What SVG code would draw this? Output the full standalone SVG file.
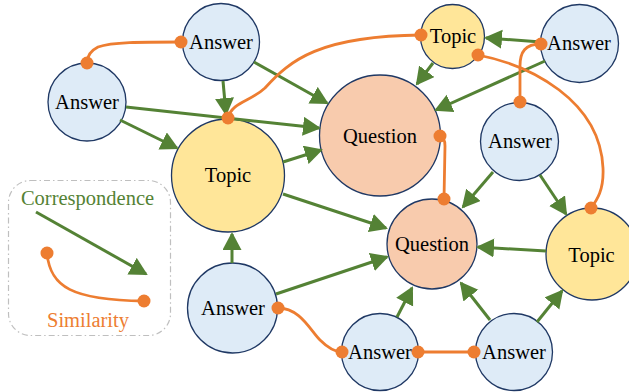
<svg xmlns="http://www.w3.org/2000/svg" width="629" height="392" viewBox="0 0 629 392">
<style>
.n{stroke:#1F3864;stroke-width:1.3}
.ans{fill:#DEEBF7}
.top{fill:#FFE699}
.que{fill:#F8CBAD}
text{font-family:"Liberation Serif","Times New Roman",serif;font-size:20.5px;text-anchor:middle;fill:#000}
.c{stroke:#548235;stroke-width:3;fill:none;marker-end:url(#ah)}
.s{stroke:#ED7D31;stroke-width:2.8;fill:none}
.d{fill:#ED7D31}
</style>
<defs>
<marker id="ah" markerUnits="userSpaceOnUse" markerWidth="20" markerHeight="20" viewBox="0 0 20 20" refX="16" refY="9.5" orient="auto">
<path d="M0,0 L18,9.5 L0,19 z" fill="#548235"/>
</marker>
</defs>
<g id="legend" font-family="Liberation Serif, serif">
<rect x="8.5" y="180.5" width="162" height="155" rx="22" fill="none" stroke="#BFBFBF" stroke-width="1.2" stroke-dasharray="6 3 1.5 3"/>
<text x="87.5" y="205" style="fill:#548235">Correspondence</text>
<line class="c" x1="36" y1="212" x2="146" y2="274"/>
<path class="s" d="M47,253 C50,287 72,300 144,301"/>
<circle class="d" cx="47" cy="253" r="6.5"/>
<circle class="d" cx="144" cy="301" r="6.5"/>
<text x="88" y="327" style="fill:#ED7D31">Similarity</text>
</g>
<g id="nodes" font-family="Liberation Serif, serif">
<g id="A1"><circle class="n ans" cx="221" cy="42" r="38.5"/><text x="221" y="48.5">Answer</text></g>
<g id="A2"><circle class="n ans" cx="87" cy="102" r="39"/><text x="87" y="108.5">Answer</text></g>
<g id="T1"><circle class="n top" cx="228" cy="175.5" r="56.5"/><text x="228" y="182">Topic</text></g>
<g id="Q1"><circle class="n que" cx="380" cy="135.5" r="60.5"/><text x="380" y="143">Question</text></g>
<g id="T2"><circle class="n top" cx="452.5" cy="36.5" r="32"/><text x="453" y="42.5">Topic</text></g>
<g id="A3"><circle class="n ans" cx="579.5" cy="43.5" r="39"/><text x="579" y="50">Answer</text></g>
<g id="A4"><circle class="n ans" cx="519.5" cy="141.5" r="39"/><text x="520" y="147.5">Answer</text></g>
<g id="Q2"><circle class="n que" cx="432" cy="244" r="45"/><text x="432" y="251">Question</text></g>
<g id="T3"><circle class="n top" cx="592" cy="254" r="46"/><text x="591.5" y="262">Topic</text></g>
<g id="A5"><circle class="n ans" cx="232.5" cy="308" r="45"/><text x="233" y="315">Answer</text></g>
<g id="A6"><circle class="n ans" cx="380" cy="352" r="38.5"/><text x="380" y="359">Answer</text></g>
<g id="A7"><circle class="n ans" cx="514" cy="352" r="38.5"/><text x="514" y="359">Answer</text></g>
</g>
<g id="connectors">
<line class="c" x1="223" y1="81" x2="226" y2="114"/>
<line class="c" x1="254" y1="62" x2="327" y2="103"/>
<line class="c" x1="126" y1="107" x2="319" y2="128"/>
<line class="c" x1="120" y1="120" x2="177" y2="148"/>
<line class="c" x1="283" y1="162" x2="321" y2="150"/>
<line class="c" x1="283" y1="194" x2="386" y2="228"/>
<line class="c" x1="541" y1="42" x2="486" y2="38"/>
<line class="c" x1="545" y1="61" x2="436" y2="110"/>
<line class="c" x1="433" y1="63" x2="417" y2="84"/>
<line class="c" x1="493" y1="172" x2="463" y2="207"/>
<line class="c" x1="540" y1="175" x2="566" y2="214"/>
<line class="c" x1="546" y1="251" x2="478" y2="247"/>
<line class="c" x1="537" y1="322" x2="562" y2="291"/>
<line class="c" x1="232" y1="263" x2="232" y2="234"/>
<line class="c" x1="276" y1="294" x2="387" y2="257"/>
<line class="c" x1="397" y1="317" x2="412" y2="288"/>
<line class="c" x1="490" y1="320" x2="461" y2="283"/>
<path class="s" d="M181,42 C140,42 112,42 98,47 C90,51 87,57 87,63"/>
<path class="s" d="M228,118 C232,102 250,102 265,88 C290,60 320,36 421,35"/>
<path class="s" d="M440,136 Q445,137 445,146 L444,199"/>
<path class="s" d="M478,55 C530,65 600,100 603,168 C604,190 597,200 591,208"/>
<path class="s" d="M541,44 C525,44 520,52 520,66 L520,102"/>
<path class="s" d="M278,308 C300,308 310,330 320,340 C328,348 335,352 342,352"/>
<line class="s" x1="418" y1="352" x2="474" y2="352"/>
<circle class="d" cx="181" cy="42" r="6.5"/>
<circle class="d" cx="87" cy="63" r="6.5"/>
<circle class="d" cx="228" cy="118" r="6.5"/>
<circle class="d" cx="421" cy="35" r="6.5"/>
<circle class="d" cx="440" cy="136" r="6.5"/>
<circle class="d" cx="444" cy="199" r="6.5"/>
<circle class="d" cx="478" cy="55" r="6.5"/>
<circle class="d" cx="591" cy="208" r="6.5"/>
<circle class="d" cx="541" cy="44" r="6.5"/>
<circle class="d" cx="520" cy="102" r="6.5"/>
<circle class="d" cx="278" cy="308" r="6.5"/>
<circle class="d" cx="342" cy="352" r="6.5"/>
<circle class="d" cx="418" cy="352" r="6.5"/>
<circle class="d" cx="474" cy="352" r="6.5"/>
</g>
</svg>
